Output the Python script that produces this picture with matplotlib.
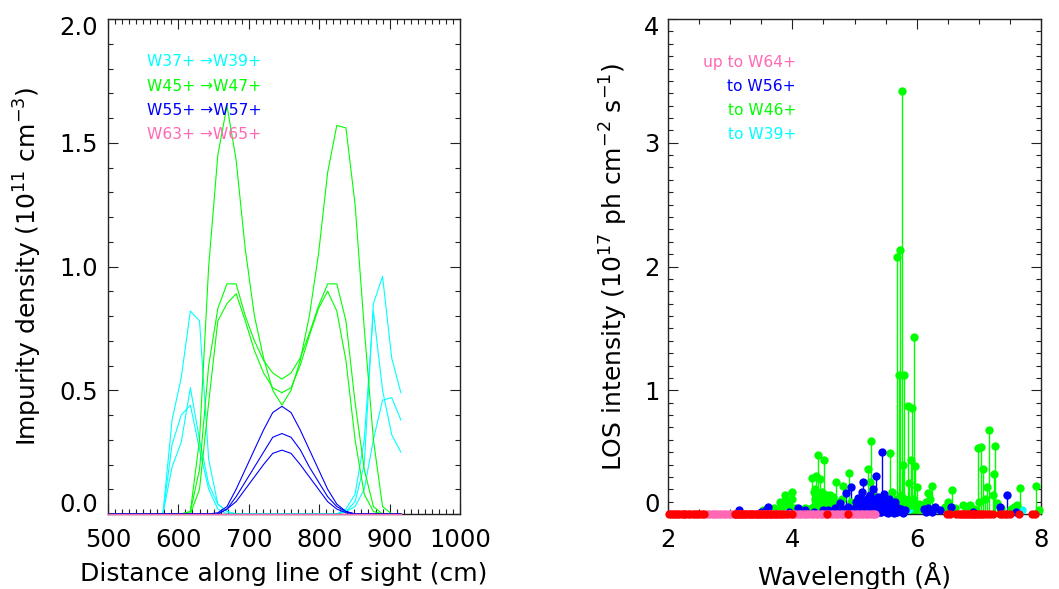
import matplotlib
matplotlib.use("Agg")
import matplotlib.pyplot as plt
from matplotlib.ticker import MultipleLocator, FuncFormatter

plt.rcParams["font.family"] = ["DejaVu Sans"]
plt.rcParams["mathtext.fontset"] = "dejavusans"

# ---------------- impurity density profiles along the line of sight ----------------
distance = [500, 513, 526, 539, 552, 565, 578, 591, 604, 617, 630, 643, 656, 669, 682, 695, 708,
            721, 734, 747, 760, 773, 786, 799, 812, 825, 838, 851, 864, 877, 890, 903, 916]

dens_w37 = [0, 0, 0, 0, 0, 0, 0, 0.38, 0.55, 0.82, 0.78, 0.22, 0.04, 0.01, 0, 0, 0,
            0, 0, 0, 0, 0, 0, 0, 0, 0, 0.01, 0.05, 0.20, 0.85, 0.96, 0.63, 0.49]
dens_w38 = [0, 0, 0, 0, 0, 0, 0, 0.19, 0.29, 0.51, 0.30, 0.12, 0.04, 0.01, 0, 0, 0,
            0, 0, 0, 0, 0, 0, 0, 0, 0, 0.01, 0.03, 0.10, 0.30, 0.46, 0.47, 0.38]
dens_w39 = [0, 0, 0, 0, 0, 0, 0, 0.28, 0.40, 0.44, 0.26, 0.10, 0.02, 0, 0, 0, 0,
            0, 0, 0, 0, 0, 0, 0, 0, 0, 0.02, 0.08, 0.30, 0.82, 0.50, 0.32, 0.25]

dens_w45 = [0, 0, 0, 0, 0, 0, 0, 0, 0, 0.01, 0.30, 1.00, 1.45, 1.65, 1.43, 1.07, 0.80,
            0.63, 0.50, 0.44, 0.50, 0.62, 0.80, 1.05, 1.38, 1.57, 1.56, 1.25, 0.75, 0.30, 0.03, 0, 0]
dens_w46 = [0, 0, 0, 0, 0, 0, 0, 0, 0, 0.01, 0.18, 0.60, 0.83, 0.93, 0.93, 0.80, 0.70,
            0.62, 0.57, 0.545, 0.57, 0.63, 0.73, 0.84, 0.93, 0.93, 0.78, 0.45, 0.18, 0.03, 0, 0, 0]
dens_w47 = [0, 0, 0, 0, 0, 0, 0, 0, 0, 0, 0.10, 0.45, 0.78, 0.85, 0.89, 0.78, 0.66,
            0.57, 0.51, 0.49, 0.51, 0.60, 0.72, 0.83, 0.90, 0.82, 0.62, 0.30, 0.08, 0.01, 0, 0, 0]

dens_w55 = [0, 0, 0, 0, 0, 0, 0, 0, 0, 0, 0, 0, 0.005, 0.03, 0.10, 0.18, 0.26,
            0.34, 0.41, 0.435, 0.41, 0.34, 0.26, 0.18, 0.10, 0.04, 0.01, 0, 0, 0, 0, 0, 0]
dens_w56 = [0, 0, 0, 0, 0, 0, 0, 0, 0, 0, 0, 0, 0, 0.02, 0.07, 0.13, 0.19,
            0.25, 0.31, 0.325, 0.31, 0.26, 0.19, 0.13, 0.07, 0.03, 0.01, 0, 0, 0, 0, 0, 0]
dens_w57 = [0, 0, 0, 0, 0, 0, 0, 0, 0, 0, 0, 0, 0, 0.02, 0.05, 0.10, 0.15,
            0.20, 0.245, 0.258, 0.245, 0.20, 0.15, 0.10, 0.05, 0.02, 0.005, 0, 0, 0, 0, 0, 0]

dens_w63 = [0] * 33
dens_w64 = [0] * 33
dens_w65 = [0] * 33

density_groups = [
    ("W37+ \u2192W39+", "#00FFFF", [dens_w37, dens_w38, dens_w39]),
    ("W45+ \u2192W47+", "#00FF00", [dens_w45, dens_w46, dens_w47]),
    ("W55+ \u2192W57+", "#0000FF", [dens_w55, dens_w56, dens_w57]),
    ("W63+ \u2192W65+", "#FF69B4", [dens_w63, dens_w64, dens_w65]),
]

# ---------------- line-of-sight line intensities ----------------
cyan_wl = [4.20, 5.30, 5.88, 6.06, 7.69]
cyan_int = [0.02, 0.02, 0.04, 0.06, 0.03]

green_wl = [5.69, 5.72, 5.73, 5.77, 5.79, 5.95, 5.86, 5.92, 5.27, 4.41, 4.51, 5.57, 5.78, 5.91,
            5.97, 7.17, 6.98, 7.03, 7.26, 7.07, 7.25, 7.13, 7.92, 7.66, 6.57, 6.24, 6.19, 4.91,
            4.31, 4.38, 4.45, 4.70, 4.82, 5.21, 5.25, 3.80, 3.89, 3.99, 3.88, 3.53, 4.35, 4.40,
            4.47, 4.55, 4.60, 4.65, 4.37, 4.43, 4.50, 4.58, 4.66, 4.75, 4.80, 4.95, 5.05, 5.15,
            5.30, 5.35, 5.52, 5.60, 5.65, 5.75, 5.82, 5.88, 6.00, 6.03, 6.10, 6.15, 6.22, 6.30,
            6.45, 6.51, 6.62, 6.75, 6.80, 6.85, 6.93, 7.00, 7.10, 7.22, 7.29, 7.35, 7.52, 7.56,
            7.62, 7.97, 3.60, 3.70, 3.75, 3.95, 4.05, 4.10, 4.20, 4.25,
            4.33, 4.36, 4.42, 4.46, 4.49, 4.53, 4.57, 4.62, 4.69, 4.73, 5.62, 5.67, 5.71, 5.74,
            5.80, 5.84, 5.90, 5.94, 5.99, 6.05, 3.84, 3.92, 4.00]
green_int = [2.08, 1.12, 2.13, 3.42, 1.12, 1.43, 0.87, 0.86, 0.59, 0.48, 0.44, 0.49, 0.40, 0.44,
             0.39, 0.68, 0.53, 0.54, 0.55, 0.36, 0.32, 0.22, 0.23, 0.21, 0.19, 0.23, 0.17, 0.33,
             0.29, 0.31, 0.28, 0.26, 0.23, 0.36, 0.26, 0.10, 0.15, 0.18, 0.11, 0.03, 0.18, 0.16,
             0.18, 0.15, 0.15, 0.14, 0.12, 0.10, 0.12, 0.09, 0.08, 0.10, 0.12, 0.10, 0.05, 0.10,
             0.15, 0.10, 0.10, 0.18, 0.08, 0.15, 0.12, 0.25, 0.22, 0.08, 0.05, 0.10, 0.12, 0.04,
             0.06, 0.10, 0.05, 0.07, 0.06, 0.07, 0.04, 0.10, 0.12, 0.15, 0.09, 0.05, 0.04, 0.06,
             0.07, 0.03, 0.04, 0.05, 0.03, 0.07, 0.05, 0.04, 0.05, 0.04,
             0.06, 0.20, 0.07, 0.13, 0.05, 0.08, 0.11, 0.06, 0.04, 0.07, 0.04, 0.12, 0.06, 0.09,
             0.05, 0.10, 0.07, 0.12, 0.06, 0.04, 0.06, 0.08, 0.12]

blue_wl = [5.45, 5.34, 5.14, 4.95, 4.87, 5.05, 5.12, 5.20, 5.25, 5.30, 5.38, 5.42, 5.48, 5.52,
           5.55, 5.60, 5.65, 5.70, 5.75, 5.82, 5.00, 5.08, 5.17, 5.22, 5.28, 5.33, 5.40, 5.46,
           5.50, 5.58, 4.76, 4.68, 4.58, 4.50, 4.35, 4.20, 4.09, 3.95, 3.61, 3.57, 3.50, 3.15,
           6.11, 6.19, 6.29, 6.37, 6.56, 7.34, 7.45, 6.90, 7.60,
           5.02, 5.06, 5.10, 5.13, 5.16, 5.19, 5.23, 5.26, 5.29, 5.31, 5.36, 5.39, 5.41, 5.44,
           5.47, 5.49, 5.51, 5.53, 5.56, 5.59, 5.62, 5.64, 5.67, 5.72, 5.78, 4.90, 4.98, 5.04,
           5.11, 5.18, 5.27, 5.35, 5.43, 5.54, 5.63, 5.69, 4.82, 4.72, 6.15, 6.24]
blue_int = [0.50, 0.31, 0.26, 0.22, 0.17, 0.13, 0.18, 0.12, 0.15, 0.20, 0.14, 0.10, 0.16, 0.08,
            0.12, 0.06, 0.10, 0.05, 0.04, 0.03, 0.05, 0.07, 0.09, 0.06, 0.08, 0.10, 0.06, 0.09,
            0.05, 0.04, 0.09, 0.05, 0.03, 0.03, 0.02, 0.03, 0.05, 0.02, 0.06, 0.03, 0.02, 0.03,
            0.04, 0.05, 0.06, 0.03, 0.06, 0.06, 0.15, 0.02, 0.02,
            0.10, 0.03, 0.06, 0.02, 0.11, 0.04, 0.14, 0.03, 0.05, 0.11, 0.04, 0.08, 0.02, 0.12,
            0.03, 0.10, 0.02, 0.05, 0.03, 0.07, 0.02, 0.04, 0.02, 0.03, 0.01, 0.06, 0.02, 0.01,
            0.02, 0.01, 0.02, 0.01, 0.02, 0.01, 0.01, 0.02, 0.04, 0.02, 0.02, 0.02]

pink_wl = [2.62, 2.66, 2.70, 2.74, 2.78, 2.82, 2.86, 2.90, 2.94, 2.98, 3.02, 3.06, 3.10, 3.14,
           3.18, 3.22, 3.26, 3.30, 3.34, 3.38, 3.42, 3.46, 3.50, 3.54, 3.58, 3.62, 3.66, 3.70,
           3.74, 3.78, 3.82, 3.86, 3.90, 3.94, 3.98, 4.02, 4.06, 4.10, 4.14, 4.18, 4.22, 4.26,
           4.30, 4.34, 4.38, 4.42, 4.46, 4.50, 4.54, 4.58, 4.62, 4.66, 4.70, 4.74, 4.78, 4.82,
           4.86, 4.90, 4.94, 4.98, 5.02, 5.06, 5.10, 5.14, 5.18, 5.22, 5.26, 5.30, 5.33]
pink_int = [0] * len(pink_wl)

red_wl = [2.02, 2.05, 2.08, 2.12, 2.15, 2.18, 2.22, 2.25, 2.28, 2.32, 2.36, 2.40, 2.43, 2.47,
          2.50, 2.54, 2.58, 3.07, 3.10, 3.13, 3.16, 3.19, 3.22, 3.26, 3.30, 3.33, 3.37, 3.41,
          3.45, 3.48, 3.52, 3.56, 3.60, 3.64, 3.68, 3.72, 3.76, 3.80, 3.85, 3.92, 4.00, 4.55,
          4.90, 6.48, 6.53, 6.64, 6.68, 6.72, 6.75, 6.78, 6.81, 6.84, 6.87, 6.90, 6.93, 6.96,
          6.99, 7.02, 7.05, 7.09, 7.13, 7.18, 7.23, 7.34, 7.38, 7.42, 7.46, 7.50, 7.64, 7.85,
          7.90]
red_int = [0] * len(red_wl)

spectrum_groups = [
    ("#00FFFF", cyan_wl, cyan_int),
    ("#00FF00", green_wl, green_int),
    ("#0000FF", blue_wl, blue_int),
    ("#FF69B4", pink_wl, pink_int),
    ("#FF0000", red_wl, red_int),
]
spectrum_legend = [("up to W64+", "#FF69B4"), ("to W56+", "#0000FF"),
                   ("to W46+", "#00FF00"), ("to W39+", "#00FFFF")]

# ---------------- figure ----------------
W, H = 1059, 589
fig = plt.figure(figsize=(W / 100, H / 100), dpi=100)
ax1 = fig.add_axes([108 / W, 1 - 514 / H, (460 - 108) / W, (514 - 19) / H])
ax2 = fig.add_axes([668 / W, 1 - 514 / H, (1041 - 668) / W, (514 - 19) / H])

TICK_FS = 17.5
LAB_FS = 18
LEG_FS = 11.2


def style_axes(ax):
    for s in ax.spines.values():
        s.set_linewidth(1.0)
        s.set_color("#222222")
    ax.tick_params(which="both", direction="in", top=True, right=True,
                   width=0.8, color="#222222", labelsize=TICK_FS)
    ax.tick_params(which="major", length=7)
    ax.tick_params(which="minor", length=3.5)
    ax.tick_params(axis="x", pad=10)
    ax.tick_params(axis="y", pad=7)


def end_labels_inside(ax, lo, hi, fmt, pad_pt):
    """Blank the y labels at both ends of the axis and redraw them inside the range."""
    ax.yaxis.set_major_formatter(FuncFormatter(
        lambda v, _: "" if abs(v - lo) < 1e-9 or abs(v - hi) < 1e-9 else fmt % v))
    ax.annotate(fmt % lo, xy=(0, lo), xycoords=("axes fraction", "data"),
                xytext=(-pad_pt, 1.5), textcoords="offset points",
                ha="right", va="baseline", fontsize=TICK_FS)
    ax.annotate(fmt % hi, xy=(0, hi), xycoords=("axes fraction", "data"),
                xytext=(-pad_pt, -11.8), textcoords="offset points",
                ha="right", va="baseline", fontsize=TICK_FS)


# left panel: density profiles
for label, color, profiles in density_groups:
    for prof in profiles:
        ax1.plot(distance, prof, color=color, lw=0.8,
                 clip_on=(color != "#FF69B4"), zorder=3 if color == "#FF69B4" else 2)

ax1.set_xlim(500, 1000)
ax1.set_ylim(0, 2.0)
ax1.xaxis.set_major_locator(MultipleLocator(100))
ax1.xaxis.set_minor_locator(MultipleLocator(10))
ax1.yaxis.set_major_locator(MultipleLocator(0.5))
ax1.yaxis.set_minor_locator(MultipleLocator(0.1))
style_axes(ax1)
end_labels_inside(ax1, 0.0, 2.0, "%.1f", 7)
ax1.set_xlabel("Distance along line of sight (cm)", fontsize=LAB_FS, labelpad=7)
ax1.set_ylabel("Impurity density (10$^{11}$ cm$^{-3}$)", fontsize=LAB_FS, labelpad=11)

for i, (label, color, _) in enumerate(density_groups):
    ax1.text(147, H - (62 + i * 24.3), label, color=color, fontsize=LEG_FS,
             transform=None, ha="left", va="center")

# right panel: line intensities
for color, wl, inten in spectrum_groups:
    ax2.vlines(wl, 0, inten, colors=color, lw=1.0, zorder=2)
    ax2.plot(wl, inten, "o", ms=6, color=color, mec="none", clip_on=False, zorder=3)

ax2.set_xlim(2, 8)
ax2.set_ylim(0, 4)
ax2.xaxis.set_major_locator(MultipleLocator(2))
ax2.xaxis.set_minor_locator(MultipleLocator(0.5))
ax2.yaxis.set_major_locator(MultipleLocator(1))
ax2.yaxis.set_minor_locator(MultipleLocator(0.1))
style_axes(ax2)
ax2.tick_params(axis="y", pad=6)
end_labels_inside(ax2, 0, 4, "%d", 6)
ax2.set_xlabel("Wavelength (\u00c5)", fontsize=LAB_FS, labelpad=7)
ax2.set_ylabel("LOS intensity (10$^{17}$ ph cm$^{-2}$ s$^{-1}$)", fontsize=LAB_FS, labelpad=10)

for i, (label, color) in enumerate(spectrum_legend):
    ax2.text(796, H - (62 + i * 24.3), label, color=color, fontsize=LEG_FS,
             transform=None, ha="right", va="center")

fig.savefig("out.png", dpi=100)
